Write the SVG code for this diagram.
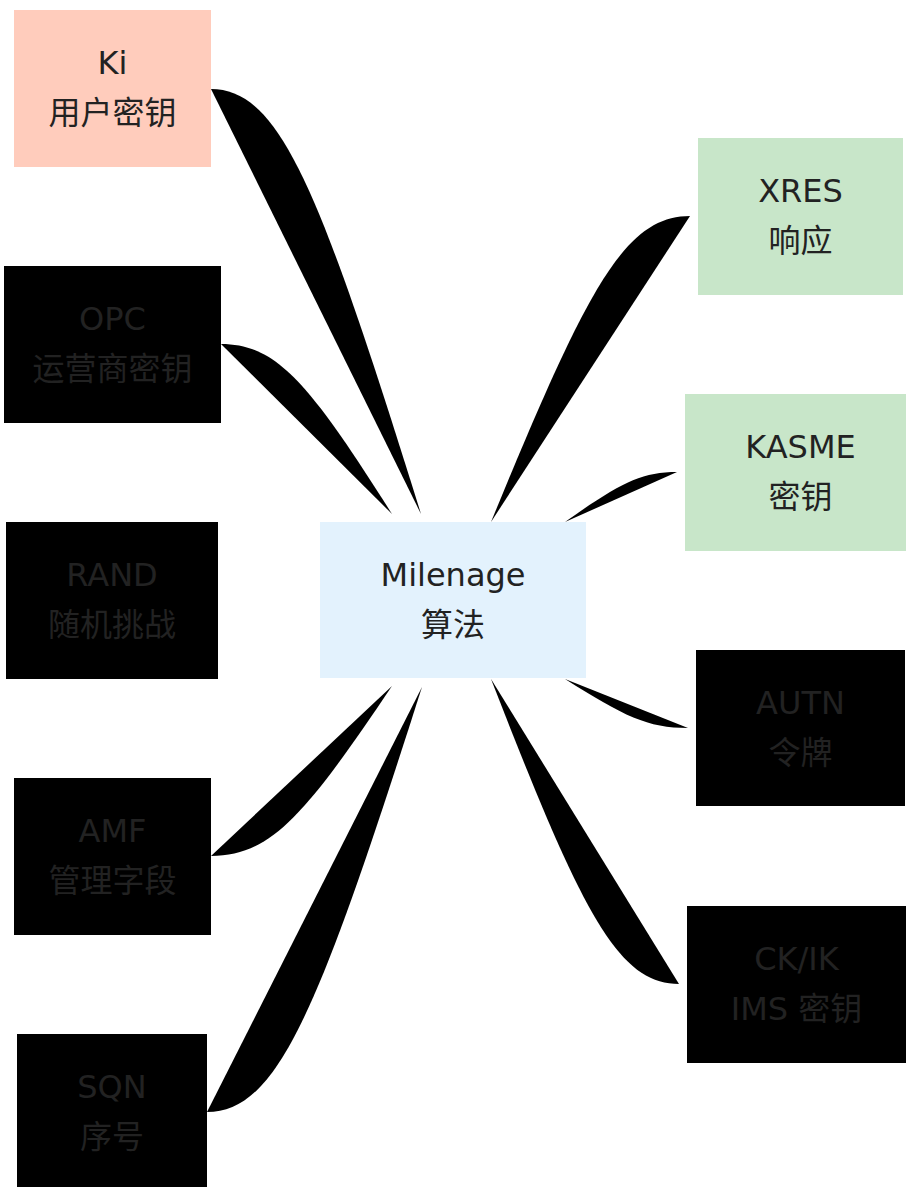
<svg xmlns="http://www.w3.org/2000/svg" width="906" height="1187" viewBox="0 0 906 1187">
<style>
text{font-family:"DejaVu Sans","Noto Sans CJK SC",sans-serif;font-size:32px;fill:#222;text-anchor:middle}
.edge{fill:#000;stroke:none}
.in{fill:#ffccbc}
.hub{fill:#e3f2fd}
.out{fill:#c8e6c9}
.dark{fill:#000}
</style>
<rect width="906" height="1187" fill="#fff"/>
<g id="connectors">
<path class="edge" d="M211,89 C280.3,89 320.2,191 421,514"/>
<path class="edge" d="M221,344 C277.4,344 309.9,384.8 392,514"/>
<path class="edge" d="M211,856 C270.7,856 305.1,815.2 392,686"/>
<path class="edge" d="M207,1112 C278,1112 318.8,1010 422,687"/>
<path class="edge" d="M491,522 C586.5,289.4 624.3,216 690,216"/>
<path class="edge" d="M565,522 C618.8,484 640,472 677,472"/>
<path class="edge" d="M565,679 C624,716.2 647.4,728 688,728"/>
<path class="edge" d="M491,679 C581.2,910.8 617,984 679,984"/>
</g>
<g id="ki"><rect class="in" x="14" y="10" width="197" height="157"/><text x="112.5" y="74">Ki</text><text x="112.5" y="124">用户密钥</text></g>
<g id="opc"><rect class="dark" x="4" y="266" width="217" height="157"/><text x="112.5" y="330">OPC</text><text x="112.5" y="380">运营商密钥</text></g>
<g id="rand"><rect class="dark" x="6" y="522" width="212" height="157"/><text x="112" y="586">RAND</text><text x="112" y="636">随机挑战</text></g>
<g id="amf"><rect class="dark" x="14" y="778" width="197" height="157"/><text x="112.5" y="842">AMF</text><text x="112.5" y="892">管理字段</text></g>
<g id="sqn"><rect class="dark" x="17" y="1034" width="190" height="153"/><text x="112" y="1098">SQN</text><text x="112" y="1148">序号</text></g>
<g id="milenage"><rect class="hub" x="320" y="522" width="266" height="156"/><text x="453" y="586">Milenage</text><text x="453" y="636">算法</text></g>
<g id="xres"><rect class="out" x="698" y="138" width="205" height="157"/><text x="800.5" y="202">XRES</text><text x="800.5" y="252">响应</text></g>
<g id="kasme"><rect class="out" x="685" y="394" width="221" height="157"/><text x="800.5" y="458">KASME</text><text x="800.5" y="508">密钥</text></g>
<g id="autn"><rect class="dark" x="696" y="650" width="209" height="156"/><text x="800.5" y="714">AUTN</text><text x="800.5" y="764">令牌</text></g>
<g id="ckik"><rect class="dark" x="687" y="906" width="219" height="157"/><text x="796.5" y="970">CK/IK</text><text x="796.5" y="1020">IMS 密钥</text></g>
</svg>
